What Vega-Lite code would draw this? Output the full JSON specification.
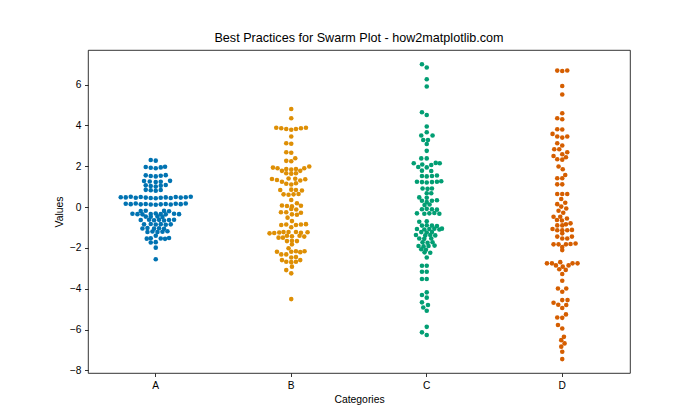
{
  "$schema": "https://vega.github.io/schema/vega-lite/v6.json",
  "width": 542,
  "height": 323,
  "autosize": {"type": "none"},
  "padding": {"left": 88, "top": 50, "right": 70, "bottom": 47},
  "title": {"text": "Best Practices for Swarm Plot - how2matplotlib.com", "font": "Liberation Sans", "fontSize": 12.6, "fontWeight": "normal", "color": "black", "offset": 5},
  "config": {
    "view": {"stroke": "black", "strokeWidth": 0.8},
    "axis": {"labelFont": "Liberation Sans", "labelFontSize": 10.2, "labelColor": "black", "titleFont": "Liberation Sans", "titleFontSize": 10.4, "titleFontWeight": "normal", "titleColor": "black", "tickColor": "black", "tickSize": 3.5, "tickWidth": 0.8, "labelPadding": 3.5, "domain": false, "grid": false}
  },
  "data": {"values": [
    {"category":"A","value":2.30,"offset":-5},{"category":"A","value":2.27,"offset":0},
    {"category":"A","value":1.96,"offset":-10},{"category":"A","value":1.92,"offset":-5},{"category":"A","value":1.90,"offset":0},{"category":"A","value":1.94,"offset":5},{"category":"A","value":1.97,"offset":9.3},
    {"category":"A","value":1.55,"offset":-10},{"category":"A","value":1.52,"offset":-5},{"category":"A","value":1.50,"offset":0},{"category":"A","value":1.53,"offset":5},{"category":"A","value":1.56,"offset":10},
    {"category":"A","value":1.27,"offset":-11.7},{"category":"A","value":1.25,"offset":-6},{"category":"A","value":1.22,"offset":0},{"category":"A","value":1.24,"offset":5},{"category":"A","value":1.28,"offset":14.3},
    {"category":"A","value":1.06,"offset":-10},{"category":"A","value":1.03,"offset":-5},{"category":"A","value":1.00,"offset":0},{"category":"A","value":1.04,"offset":5},{"category":"A","value":1.08,"offset":10},
    {"category":"A","value":0.84,"offset":-10},{"category":"A","value":0.82,"offset":-5},{"category":"A","value":0.80,"offset":0},{"category":"A","value":0.83,"offset":5},
    {"category":"A","value":0.48,"offset":-35},{"category":"A","value":0.47,"offset":-30},{"category":"A","value":0.50,"offset":-25},{"category":"A","value":0.45,"offset":-20},{"category":"A","value":0.49,"offset":-15},{"category":"A","value":0.46,"offset":-10},{"category":"A","value":0.44,"offset":-5},{"category":"A","value":0.43,"offset":0},{"category":"A","value":0.45,"offset":5},{"category":"A","value":0.47,"offset":10},{"category":"A","value":0.44,"offset":15},{"category":"A","value":0.49,"offset":20},{"category":"A","value":0.46,"offset":25},{"category":"A","value":0.48,"offset":30},{"category":"A","value":0.50,"offset":35},
    {"category":"A","value":0.16,"offset":-30},{"category":"A","value":0.14,"offset":-25},{"category":"A","value":0.17,"offset":-20},{"category":"A","value":0.13,"offset":-15},{"category":"A","value":0.15,"offset":-10},{"category":"A","value":0.12,"offset":-5},{"category":"A","value":0.11,"offset":0},{"category":"A","value":0.13,"offset":5},{"category":"A","value":0.15,"offset":10},{"category":"A","value":0.12,"offset":15},{"category":"A","value":0.16,"offset":20},{"category":"A","value":0.14,"offset":25},{"category":"A","value":0.17,"offset":30},
    {"category":"A","value":-0.20,"offset":-15},{"category":"A","value":-0.18,"offset":-10},{"category":"A","value":-0.19,"offset":8.3},{"category":"A","value":-0.21,"offset":13.3},
    {"category":"A","value":-0.33,"offset":-23.3},{"category":"A","value":-0.35,"offset":-18.3},{"category":"A","value":-0.36,"offset":-13.3},{"category":"A","value":-0.34,"offset":-5},{"category":"A","value":-0.32,"offset":0},{"category":"A","value":-0.34,"offset":5},{"category":"A","value":-0.36,"offset":10},{"category":"A","value":-0.33,"offset":18.3},{"category":"A","value":-0.35,"offset":23.3},
    {"category":"A","value":-0.47,"offset":-10},{"category":"A","value":-0.48,"offset":-5},{"category":"A","value":-0.46,"offset":1.7},{"category":"A","value":-0.49,"offset":6.7},
    {"category":"A","value":-0.64,"offset":-15},{"category":"A","value":-0.62,"offset":-6.7},{"category":"A","value":-0.65,"offset":-1.7},{"category":"A","value":-0.63,"offset":3.3},{"category":"A","value":-0.66,"offset":8.3},{"category":"A","value":-0.64,"offset":13.3},{"category":"A","value":-0.62,"offset":18.3},
    {"category":"A","value":-0.85,"offset":-11.7},{"category":"A","value":-0.83,"offset":-5},{"category":"A","value":-0.86,"offset":0},{"category":"A","value":-0.84,"offset":5},{"category":"A","value":-0.87,"offset":10},{"category":"A","value":-0.85,"offset":15},
    {"category":"A","value":-1.05,"offset":-13.3},{"category":"A","value":-1.03,"offset":-8.3},{"category":"A","value":-1.06,"offset":-1.7},{"category":"A","value":-1.04,"offset":3.3},{"category":"A","value":-1.07,"offset":8.3},
    {"category":"A","value":-1.22,"offset":-8.3},{"category":"A","value":-1.20,"offset":-3.3},{"category":"A","value":-1.23,"offset":1.7},{"category":"A","value":-1.21,"offset":6.7},{"category":"A","value":-1.19,"offset":11.7},
    {"category":"A","value":-1.41,"offset":0},
    {"category":"A","value":-1.55,"offset":-9},{"category":"A","value":-1.53,"offset":-5},{"category":"A","value":-1.54,"offset":5},{"category":"A","value":-1.56,"offset":9.3},{"category":"A","value":-1.52,"offset":13.3},
    {"category":"A","value":-1.74,"offset":-5},{"category":"A","value":-1.72,"offset":0},
    {"category":"A","value":-1.99,"offset":0},{"category":"A","value":-2.56,"offset":0},

    {"category":"B","value":4.80,"offset":0},{"category":"B","value":4.35,"offset":0},
    {"category":"B","value":3.88,"offset":-15},{"category":"B","value":3.86,"offset":-10},{"category":"B","value":3.82,"offset":-5},{"category":"B","value":3.78,"offset":0},{"category":"B","value":3.82,"offset":4.7},{"category":"B","value":3.86,"offset":9.7},{"category":"B","value":3.88,"offset":14.7},
    {"category":"B","value":3.45,"offset":0},
    {"category":"B","value":3.12,"offset":-5},{"category":"B","value":3.10,"offset":0},
    {"category":"B","value":2.68,"offset":-5},{"category":"B","value":2.66,"offset":0},
    {"category":"B","value":2.39,"offset":4},
    {"category":"B","value":2.26,"offset":-5},{"category":"B","value":2.24,"offset":0},
    {"category":"B","value":1.93,"offset":-18.3},{"category":"B","value":1.90,"offset":-13.7},{"category":"B","value":1.86,"offset":-5},{"category":"B","value":1.83,"offset":0},{"category":"B","value":1.86,"offset":4.7},{"category":"B","value":1.90,"offset":13},{"category":"B","value":1.98,"offset":18},
    {"category":"B","value":1.77,"offset":-9.3},{"category":"B","value":1.77,"offset":9},
    {"category":"B","value":1.65,"offset":-5},{"category":"B","value":1.63,"offset":0},{"category":"B","value":1.65,"offset":4.7},
    {"category":"B","value":1.37,"offset":-19.3},{"category":"B","value":1.32,"offset":-14.3},{"category":"B","value":1.24,"offset":-9.3},{"category":"B","value":1.40,"offset":-2.7},{"category":"B","value":1.38,"offset":4},{"category":"B","value":1.30,"offset":9},{"category":"B","value":1.36,"offset":14},
    {"category":"B","value":1.14,"offset":-5},{"category":"B","value":1.10,"offset":0},{"category":"B","value":1.16,"offset":4.7},
    {"category":"B","value":0.83,"offset":-11},{"category":"B","value":0.85,"offset":0},{"category":"B","value":0.83,"offset":4.7},{"category":"B","value":0.81,"offset":10.7},
    {"category":"B","value":0.62,"offset":-7.7},{"category":"B","value":0.60,"offset":-2.7},{"category":"B","value":0.62,"offset":2.3},{"category":"B","value":0.64,"offset":7.3},
    {"category":"B","value":0.34,"offset":0},{"category":"B","value":0.18,"offset":5.7},
    {"category":"B","value":0.07,"offset":-9.3},{"category":"B","value":0.05,"offset":-4.3},{"category":"B","value":0.03,"offset":0.7},{"category":"B","value":0.06,"offset":9.7},
    {"category":"B","value":-0.10,"offset":0},{"category":"B","value":-0.12,"offset":5},
    {"category":"B","value":-0.26,"offset":-10.3},{"category":"B","value":-0.26,"offset":-5},{"category":"B","value":-0.28,"offset":9.7},
    {"category":"B","value":-0.36,"offset":0.7},{"category":"B","value":-0.38,"offset":5.7},
    {"category":"B","value":-0.52,"offset":-3.7},{"category":"B","value":-0.69,"offset":0.7},
    {"category":"B","value":-0.88,"offset":-10},{"category":"B","value":-0.86,"offset":-5},{"category":"B","value":-0.88,"offset":4.7},{"category":"B","value":-0.86,"offset":9.7},{"category":"B","value":-0.84,"offset":14.7},
    {"category":"B","value":-0.99,"offset":0},
    {"category":"B","value":-1.29,"offset":-21.7},{"category":"B","value":-1.27,"offset":-17},{"category":"B","value":-1.25,"offset":-12},{"category":"B","value":-1.23,"offset":-7.7},{"category":"B","value":-1.22,"offset":-2.7},{"category":"B","value":-1.22,"offset":4.7},{"category":"B","value":-1.26,"offset":9.7},{"category":"B","value":-1.24,"offset":16.3},
    {"category":"B","value":-1.41,"offset":-4.3},{"category":"B","value":-1.43,"offset":0.7},{"category":"B","value":-1.41,"offset":8.3},{"category":"B","value":-1.45,"offset":13},
    {"category":"B","value":-1.50,"offset":-12.7},{"category":"B","value":-1.50,"offset":-8.3},
    {"category":"B","value":-1.67,"offset":-4.3},{"category":"B","value":-1.65,"offset":0.7},{"category":"B","value":-1.67,"offset":5.7},
    {"category":"B","value":-1.83,"offset":0.7},{"category":"B","value":-2.02,"offset":-2.7},
    {"category":"B","value":-2.19,"offset":-14.3},{"category":"B","value":-2.19,"offset":0},{"category":"B","value":-2.17,"offset":4.7},{"category":"B","value":-2.21,"offset":9},{"category":"B","value":-2.17,"offset":13.3},
    {"category":"B","value":-2.32,"offset":-10},{"category":"B","value":-2.32,"offset":-5},
    {"category":"B","value":-2.47,"offset":0},{"category":"B","value":-2.45,"offset":4.7},
    {"category":"B","value":-2.60,"offset":-9.3},{"category":"B","value":-2.60,"offset":9},
    {"category":"B","value":-2.68,"offset":-5},{"category":"B","value":-2.70,"offset":0},{"category":"B","value":-2.68,"offset":4.7},
    {"category":"B","value":-2.92,"offset":0.7},{"category":"B","value":-3.09,"offset":-5},{"category":"B","value":-3.25,"offset":0},{"category":"B","value":-4.51,"offset":0},

    {"category":"C","value":6.99,"offset":-4.8},{"category":"C","value":6.83,"offset":0},{"category":"C","value":6.26,"offset":0},{"category":"C","value":5.90,"offset":0},
    {"category":"C","value":4.64,"offset":-4.8},{"category":"C","value":4.51,"offset":0},{"category":"C","value":3.94,"offset":0},{"category":"C","value":3.66,"offset":0},
    {"category":"C","value":3.50,"offset":-5.5},{"category":"C","value":3.50,"offset":5.8},
    {"category":"C","value":3.28,"offset":-3.5},{"category":"C","value":3.28,"offset":1.2},
    {"category":"C","value":3.09,"offset":0},{"category":"C","value":2.75,"offset":0},
    {"category":"C","value":2.38,"offset":-5.5},{"category":"C","value":2.38,"offset":0},
    {"category":"C","value":2.14,"offset":-13},{"category":"C","value":2.14,"offset":13},{"category":"C","value":2.16,"offset":9},
    {"category":"C","value":2.08,"offset":-4.5},{"category":"C","value":2.06,"offset":4.5},
    {"category":"C","value":1.96,"offset":-8.5},{"category":"C","value":1.94,"offset":0},
    {"category":"C","value":1.78,"offset":-4.8},{"category":"C","value":1.76,"offset":4.5},
    {"category":"C","value":1.52,"offset":-4.8},{"category":"C","value":1.50,"offset":0},{"category":"C","value":1.52,"offset":5.2},{"category":"C","value":1.54,"offset":10.2},
    {"category":"C","value":1.24,"offset":-9.8},{"category":"C","value":1.22,"offset":-4.8},{"category":"C","value":1.20,"offset":0},{"category":"C","value":1.22,"offset":5.2},{"category":"C","value":1.24,"offset":10.2},{"category":"C","value":1.26,"offset":14.5},
    {"category":"C","value":0.91,"offset":-4.2},{"category":"C","value":0.89,"offset":0.8},{"category":"C","value":0.91,"offset":5.2},
    {"category":"C","value":0.67,"offset":0},{"category":"C","value":0.67,"offset":4.5},
    {"category":"C","value":0.47,"offset":-7.5},{"category":"C","value":0.45,"offset":0},
    {"category":"C","value":0.31,"offset":-4.8},{"category":"C","value":0.24,"offset":0},{"category":"C","value":0.31,"offset":5.2},{"category":"C","value":0.33,"offset":10.2},
    {"category":"C","value":0.10,"offset":-2.2},{"category":"C","value":0.12,"offset":2.8},
    {"category":"C","value":-0.11,"offset":-4.8},{"category":"C","value":-0.09,"offset":0},{"category":"C","value":-0.11,"offset":5.2},{"category":"C","value":-0.13,"offset":10.2},
    {"category":"C","value":-0.31,"offset":-9.8},{"category":"C","value":-0.33,"offset":-2.4},{"category":"C","value":-0.31,"offset":2.6},{"category":"C","value":-0.29,"offset":7.6},{"category":"C","value":-0.33,"offset":12.6},
    {"category":"C","value":-0.72,"offset":-7.5},{"category":"C","value":-0.70,"offset":0},
    {"category":"C","value":-0.91,"offset":-4.8},{"category":"C","value":-0.89,"offset":0},{"category":"C","value":-0.91,"offset":5.2},{"category":"C","value":-0.93,"offset":10.2},
    {"category":"C","value":-1.08,"offset":-9.8},{"category":"C","value":-1.10,"offset":-2.4},{"category":"C","value":-1.08,"offset":2.6},{"category":"C","value":-1.06,"offset":7.6},{"category":"C","value":-1.10,"offset":12.6},{"category":"C","value":-1.06,"offset":15.2},
    {"category":"C","value":-1.23,"offset":-5.5},{"category":"C","value":-1.25,"offset":0},{"category":"C","value":-1.23,"offset":5.2},
    {"category":"C","value":-1.37,"offset":-10.8},{"category":"C","value":-1.39,"offset":-1.5},{"category":"C","value":-1.37,"offset":3.5},{"category":"C","value":-1.39,"offset":8.5},
    {"category":"C","value":-1.54,"offset":-7.5},{"category":"C","value":-1.56,"offset":-2.5},{"category":"C","value":-1.54,"offset":4.5},
    {"category":"C","value":-1.73,"offset":-4.2},{"category":"C","value":-1.75,"offset":0.8},{"category":"C","value":-1.73,"offset":5.8},
    {"category":"C","value":-1.91,"offset":-8.2},{"category":"C","value":-1.93,"offset":-3.2},{"category":"C","value":-1.91,"offset":1.8},{"category":"C","value":-1.89,"offset":7.8},
    {"category":"C","value":-2.07,"offset":-5.5},{"category":"C","value":-2.09,"offset":-0.8},
    {"category":"C","value":-2.22,"offset":-2.2},{"category":"C","value":-2.24,"offset":3.5},
    {"category":"C","value":-2.47,"offset":0},
    {"category":"C","value":-2.88,"offset":-4.8},{"category":"C","value":-2.88,"offset":0},
    {"category":"C","value":-3.17,"offset":-4.8},{"category":"C","value":-3.17,"offset":0},
    {"category":"C","value":-3.53,"offset":-4.8},{"category":"C","value":-3.53,"offset":0},
    {"category":"C","value":-4.18,"offset":0},{"category":"C","value":-4.31,"offset":-4.8},{"category":"C","value":-4.44,"offset":0},{"category":"C","value":-4.67,"offset":-4.8},{"category":"C","value":-4.80,"offset":1.2},{"category":"C","value":-4.92,"offset":-3.5},{"category":"C","value":-5.08,"offset":0},
    {"category":"C","value":-5.87,"offset":0},{"category":"C","value":-6.14,"offset":-4.8},{"category":"C","value":-6.27,"offset":0},

    {"category":"D","value":6.68,"offset":-5},{"category":"D","value":6.66,"offset":0},{"category":"D","value":6.69,"offset":5},
    {"category":"D","value":5.93,"offset":0},{"category":"D","value":5.51,"offset":0},{"category":"D","value":4.59,"offset":0},
    {"category":"D","value":4.35,"offset":-5},{"category":"D","value":4.30,"offset":0},
    {"category":"D","value":3.81,"offset":-5},{"category":"D","value":3.80,"offset":0},
    {"category":"D","value":3.58,"offset":-9.7},{"category":"D","value":3.45,"offset":-5},{"category":"D","value":3.40,"offset":0},{"category":"D","value":3.45,"offset":5},
    {"category":"D","value":3.12,"offset":-5},{"category":"D","value":3.01,"offset":0},
    {"category":"D","value":2.83,"offset":-8},{"category":"D","value":2.83,"offset":-3},{"category":"D","value":2.68,"offset":5},{"category":"D","value":2.58,"offset":0},{"category":"D","value":2.50,"offset":-8.7},{"category":"D","value":2.44,"offset":3.7},
    {"category":"D","value":2.34,"offset":-5},{"category":"D","value":2.32,"offset":0},
    {"category":"D","value":1.98,"offset":-3.7},{"category":"D","value":1.85,"offset":0.5},
    {"category":"D","value":1.57,"offset":3},
    {"category":"D","value":1.41,"offset":-5},{"category":"D","value":1.41,"offset":0},
    {"category":"D","value":1.11,"offset":-5},{"category":"D","value":1.11,"offset":0},
    {"category":"D","value":0.64,"offset":-5},{"category":"D","value":0.64,"offset":0},{"category":"D","value":0.64,"offset":5},
    {"category":"D","value":0.39,"offset":-1},{"category":"D","value":0.21,"offset":3},{"category":"D","value":0.14,"offset":-5},{"category":"D","value":0.02,"offset":-1},{"category":"D","value":-0.07,"offset":4},{"category":"D","value":-0.18,"offset":-3.7},{"category":"D","value":-0.28,"offset":1},
    {"category":"D","value":-0.48,"offset":-8.7},{"category":"D","value":-0.48,"offset":-2},{"category":"D","value":-0.56,"offset":4.7},
    {"category":"D","value":-0.64,"offset":-5.3},{"category":"D","value":-0.66,"offset":-0.3},
    {"category":"D","value":-0.80,"offset":8.3},{"category":"D","value":-0.85,"offset":3.7},
    {"category":"D","value":-0.90,"offset":-5},{"category":"D","value":-0.90,"offset":0},
    {"category":"D","value":-1.08,"offset":-9.7},{"category":"D","value":-1.14,"offset":-5},{"category":"D","value":-1.14,"offset":0},{"category":"D","value":-1.14,"offset":5},{"category":"D","value":-1.12,"offset":9.7},
    {"category":"D","value":-1.29,"offset":0},
    {"category":"D","value":-1.45,"offset":-5},{"category":"D","value":-1.45,"offset":9.7},
    {"category":"D","value":-1.54,"offset":0},{"category":"D","value":-1.54,"offset":5},
    {"category":"D","value":-1.83,"offset":-8.7},{"category":"D","value":-1.83,"offset":-3.7},{"category":"D","value":-1.83,"offset":3.7},{"category":"D","value":-1.81,"offset":8.3},{"category":"D","value":-1.79,"offset":13.3},
    {"category":"D","value":-1.96,"offset":0},{"category":"D","value":-2.11,"offset":0},
    {"category":"D","value":-2.70,"offset":-2},
    {"category":"D","value":-2.76,"offset":-15.3},{"category":"D","value":-2.76,"offset":-10.3},{"category":"D","value":-2.76,"offset":10.3},{"category":"D","value":-2.76,"offset":15.3},
    {"category":"D","value":-2.86,"offset":-6.3},{"category":"D","value":-2.86,"offset":6.3},{"category":"D","value":-2.92,"offset":0.5},
    {"category":"D","value":-3.05,"offset":-3},{"category":"D","value":-3.08,"offset":3.5},
    {"category":"D","value":-3.28,"offset":0},{"category":"D","value":-3.61,"offset":0},
    {"category":"D","value":-3.99,"offset":-4.3},{"category":"D","value":-3.99,"offset":4},{"category":"D","value":-4.15,"offset":0},
    {"category":"D","value":-4.56,"offset":0},{"category":"D","value":-4.56,"offset":5.3},{"category":"D","value":-4.69,"offset":-8.7},
    {"category":"D","value":-4.79,"offset":-4},{"category":"D","value":-4.80,"offset":4},{"category":"D","value":-4.95,"offset":0},
    {"category":"D","value":-5.26,"offset":3.7},{"category":"D","value":-5.41,"offset":-5},{"category":"D","value":-5.43,"offset":0},
    {"category":"D","value":-5.78,"offset":-4.3},{"category":"D","value":-5.95,"offset":0},
    {"category":"D","value":-6.36,"offset":1.7},{"category":"D","value":-6.52,"offset":-1},{"category":"D","value":-6.68,"offset":2.3},{"category":"D","value":-6.84,"offset":-1},{"category":"D","value":-7.09,"offset":0},{"category":"D","value":-7.45,"offset":0}
  ]},
  "mark": {"type": "circle", "size": 21, "opacity": 1},
  "encoding": {
    "x": {"field": "category", "type": "nominal", "scale": {"paddingInner": 0, "paddingOuter": 0}, "axis": {"labelAngle": 0, "title": "Categories", "titlePadding": 4}},
    "xOffset": {"field": "offset", "type": "quantitative", "scale": {"domain": [-67.75, 67.75], "range": [0, 135.5]}},
    "y": {"field": "value", "type": "quantitative", "scale": {"domain": [-8.13, 7.69], "nice": false, "zero": false}, "axis": {"values": [-8, -6, -4, -2, 0, 2, 4, 6], "title": "Values", "titlePadding": 5}},
    "color": {"field": "category", "type": "nominal", "scale": {"domain": ["A", "B", "C", "D"], "range": ["#0173b2", "#de8f05", "#029e73", "#d55e00"]}, "legend": null}
  }
}
